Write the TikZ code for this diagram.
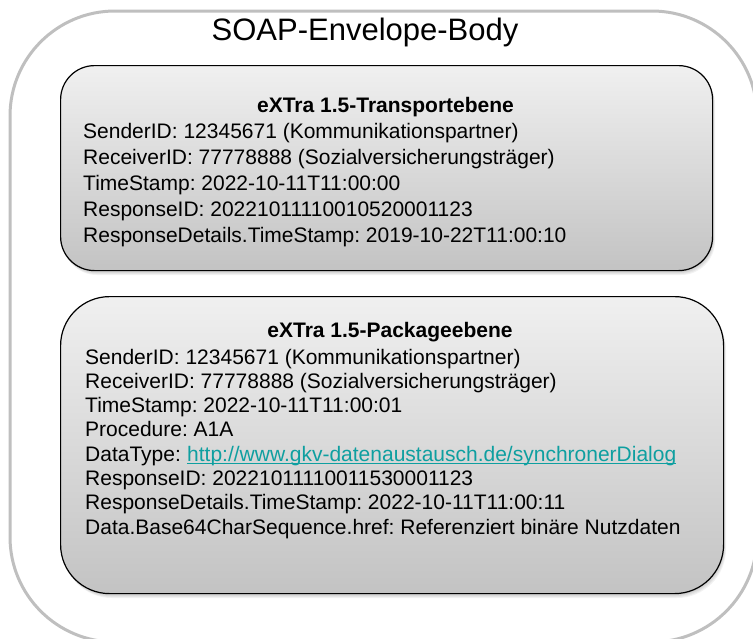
\documentclass[tikz,border=0pt]{standalone}
\usepackage{fontspec}
\setmainfont{Liberation Sans}
\frenchspacing
\definecolor{outerc}{HTML}{BFBFBF}
\definecolor{linkc}{HTML}{0E9FA0}
\definecolor{boxtop}{HTML}{F0F0F0}
\definecolor{boxbot}{HTML}{C3C3C3}
\begin{document}
\begin{tikzpicture}[x=1pt,y=-1pt,
  body/.style={anchor=base west,inner sep=0pt,font=\fontsize{21}{25}\selectfont\frenchspacing},
  head/.style={anchor=base,inner sep=0pt,font=\fontsize{21}{25}\selectfont\bfseries},
  layerbox/.style={draw=black,line width=1.2pt,top color=boxtop,bottom color=boxbot,anchor=north west,inner sep=0pt},
  shadowlayer/.style={fill=black,opacity=0.05},
]
\useasboundingbox (0,0) rectangle (753,638);
\clip (0,0) rectangle (753,638);
% outer envelope
\draw[outerc,line width=3pt,rounded corners=105pt] (10,11) rectangle (757,642);
\node[anchor=base,inner sep=0pt,font=\fontsize{31}{36}\selectfont] (title) at (365,40) {SOAP-Envelope-Body};

% shadows
\foreach \d in {2,3,4,5}{
  \fill[shadowlayer,rounded corners=34pt] (60+\d*0.6,65+\d) rectangle (712+\d*0.6,270+\d);
  \fill[shadowlayer,rounded corners=49pt] (60+\d*0.6,296+\d) rectangle (723+\d*0.6,593+\d);
}

% transport box
\node[layerbox,rounded corners=34pt,minimum width=652pt,minimum height=205pt] (transport) at (60,65) {};
\node[head] (th) at (385.5,112) {eXTra 1.5-Transportebene};
\node[body] (t1) at (83,138) {SenderID: 12345671 (Kommunikationspartner)};
\node[body] (t2) at (83,164) {ReceiverID: 77778888 (Sozialversicherungsträger)};
\node[body] (t3) at (83,190) {TimeStamp: 2022-10-11T11:00:00};
\node[body] (t4) at (83,216) {ResponseID: 20221011110010520001123};
\node[body] (t5) at (83,242) {ResponseDetails.TimeStamp: 2019-10-22T11:00:10};

% package box
\node[layerbox,rounded corners=49pt,minimum width=663pt,minimum height=297pt] (package) at (60,296) {};
\node[head] (ph) at (390,337) {eXTra 1.5-Packageebene};
\node[body] (p1) at (85,364) {SenderID: 12345671 (Kommunikationspartner)};
\node[body] (p2) at (85,388.3) {ReceiverID: 77778888 (Sozialversicherungsträger)};
\node[body] (p3) at (85,412.6) {TimeStamp: 2022-10-11T11:00:01};
\node[body] (p4) at (85,436.9) {Procedure: A1A};
\node[body] (p5) at (85,461.2) {DataType:};
\node[body,text=linkc,xshift=5.84pt] (p5link) at (p5.base east) {http://www.gkv-datenaustausch.de/synchronerDialog};
\draw[linkc,line width=1.3pt] ([yshift=-2.6pt]p5link.base west) -- ([yshift=-2.6pt]p5link.base east);
\node[body] (p6) at (85,485.5) {ResponseID: 20221011110011530001123};
\node[body] (p7) at (85,509.8) {ResponseDetails.TimeStamp: 2022-10-11T11:00:11};
\node[body] (p8) at (85,534.1) {Data.Base64CharSequence.href: Referenziert binäre Nutzdaten};
\end{tikzpicture}
\end{document}
